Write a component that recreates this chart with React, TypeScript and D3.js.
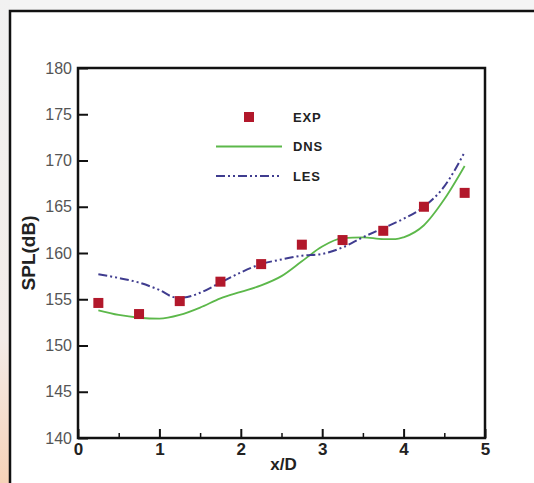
import React, { useEffect, useRef } from 'react';
import * as d3 from 'd3';

// x/D positions of the measurements and their SPL values
const expX = [0.25, 0.75, 1.25, 1.75, 2.25, 2.75, 3.25, 3.75, 4.25, 4.75];
const expY = [154.6, 153.4, 154.8, 156.9, 158.8, 160.9, 161.4, 162.4, 165.0, 166.5];

// DNS curve
const dnsX = [0.25, 0.5, 0.75, 1.0, 1.25, 1.5, 1.75, 2.0, 2.25, 2.5, 2.75, 3.0, 3.25, 3.5, 3.75, 3.9, 4.0, 4.25, 4.5, 4.75];
const dnsY = [153.8, 153.3, 153.0, 152.9, 153.3, 154.1, 155.1, 155.8, 156.5, 157.5, 159.1, 160.7, 161.6, 161.7, 161.5, 161.5, 161.7, 163.0, 165.8, 169.4];

// LES curve
const lesX = [0.25, 0.5, 0.75, 1.0, 1.2, 1.3, 1.5, 1.75, 2.0, 2.25, 2.5, 2.75, 3.0, 3.25, 3.5, 3.75, 4.0, 4.25, 4.5, 4.75];
const lesY = [157.7, 157.3, 156.8, 156.0, 155.2, 155.2, 155.7, 156.8, 157.9, 158.8, 159.3, 159.7, 159.9, 160.6, 161.7, 162.7, 163.7, 165.0, 167.2, 170.9];

const xTicks = [0, 1, 2, 3, 4, 5];
const xMinorTicks = [0.5, 1.5, 2.5, 3.5, 4.5];
const yTicks = [140, 145, 150, 155, 160, 165, 170, 175, 180];

const legendItems = ['EXP', 'DNS', 'LES'];

const W = 534;
const H = 483;

const App = () => {
  const ref = useRef<SVGSVGElement>(null);

  useEffect(() => {
    const svg = d3.select(ref.current);
    svg.selectAll('*').remove();

    const margin = { top: 68, right: 49, bottom: 45, left: 78 };
    const width = W - margin.left - margin.right;
    const height = H - margin.top - margin.bottom;

    // background: grey page with orange glow at the left
    const defs = svg.append('defs');
    const grad = defs.append('linearGradient')
      .attr('id', 'edge')
      .attr('x1', 0).attr('y1', 0).attr('x2', 0).attr('y2', 1);
    grad.append('stop').attr('offset', '0%').attr('stop-color', '#f1f1f1');
    grad.append('stop').attr('offset', '70%').attr('stop-color', '#f3ece8');
    grad.append('stop').attr('offset', '100%').attr('stop-color', '#f6d2b8');

    svg.append('rect').attr('width', W).attr('height', H).attr('fill', '#f4f4f4');
    svg.append('rect').attr('width', 10).attr('height', H).attr('fill', 'url(#edge)');
    svg.append('rect')
      .attr('x', 10).attr('y', 11)
      .attr('width', W).attr('height', H)
      .attr('fill', '#fff');
    svg.append('path')
      .attr('d', `M10,${H}V11H${W}`)
      .attr('fill', 'none')
      .attr('stroke', '#111')
      .attr('stroke-width', 2.5);

    const g = svg.append('g')
      .attr('transform', `translate(${margin.left},${margin.top})`);

    const x = d3.scaleLinear().domain([0, 5]).range([0, width]);
    const y = d3.scaleLinear().domain([140, 180]).range([height, 0]);

    // axes
    const yAxis = g.append('g')
      .call(d3.axisLeft(y).tickValues(yTicks).tickSize(-10).tickPadding(6).tickFormat(d3.format('d')));
    yAxis.select('.domain').remove();
    yAxis.selectAll('line').attr('stroke', '#111').attr('stroke-width', 2);
    yAxis.selectAll('text')
      .attr('fill', '#555')
      .style('font-family', 'Liberation Sans, Arial, sans-serif')
      .style('font-size', '16px');

    const xAxis = g.append('g')
      .attr('transform', `translate(0,${height})`)
      .call(d3.axisBottom(x).tickValues(xTicks).tickSize(-9).tickPadding(5).tickFormat(d3.format('d')));
    xAxis.select('.domain').remove();
    xAxis.selectAll('line').attr('stroke', '#111').attr('stroke-width', 2);
    xAxis.selectAll('text')
      .attr('fill', '#222')
      .style('font-family', 'Liberation Sans, Arial, sans-serif')
      .style('font-weight', 'bold')
      .style('font-size', '17px');

    const xMinor = g.append('g')
      .attr('transform', `translate(0,${height})`)
      .call(d3.axisBottom(x).tickValues(xMinorTicks).tickSize(-5).tickFormat(() => ''));
    xMinor.select('.domain').remove();
    xMinor.selectAll('line').attr('stroke', '#111').attr('stroke-width', 1.5);

    g.append('rect')
      .attr('width', width).attr('height', height)
      .attr('fill', 'none')
      .attr('stroke', '#111')
      .attr('stroke-width', 2.5);

    // axis titles
    g.append('text')
      .attr('x', width / 2 + 2)
      .attr('y', height + 32)
      .attr('text-anchor', 'middle')
      .attr('fill', '#222')
      .style('font-family', 'Liberation Sans, Arial, sans-serif')
      .style('font-weight', 'bold')
      .style('font-size', '17px')
      .text('x/D');

    svg.append('text')
      .attr('transform', 'translate(35,253) rotate(-90)')
      .attr('text-anchor', 'middle')
      .attr('fill', '#222')
      .style('font-family', 'Liberation Sans, Arial, sans-serif')
      .style('font-weight', 'bold')
      .style('font-size', '19px')
      .text('SPL(dB)');

    // curves
    const line = d3.line<[number, number]>()
      .x(d => x(d[0]))
      .y(d => y(d[1]))
      .curve(d3.curveMonotoneX);

    const dns = dnsX.map((v, i) => [v, dnsY[i]] as [number, number]);
    const les = lesX.map((v, i) => [v, lesY[i]] as [number, number]);

    g.append('path')
      .attr('d', line(dns))
      .attr('fill', 'none')
      .attr('stroke', '#5cb84a')
      .attr('stroke-width', 1.8);

    g.append('path')
      .attr('d', line(les))
      .attr('fill', 'none')
      .attr('stroke', '#3f3c8f')
      .attr('stroke-width', 2)
      .attr('stroke-dasharray', '9,3,2,3,2,3');

    // measured points
    const s = 10;
    g.append('g')
      .selectAll('rect')
      .data(expX.map((v, i) => [v, expY[i]]))
      .enter()
      .append('rect')
      .attr('x', d => x(d[0]) - s / 2)
      .attr('y', d => y(d[1]) - s / 2)
      .attr('width', s)
      .attr('height', s)
      .attr('fill', '#b2182b');

    // legend
    const lg = svg.append('g').attr('transform', 'translate(216,117)');
    const rowH = 29.5;
    lg.append('rect')
      .attr('x', 33 - s / 2).attr('y', -s / 2)
      .attr('width', s).attr('height', s)
      .attr('fill', '#b2182b');
    lg.append('line')
      .attr('x1', 0).attr('x2', 66)
      .attr('y1', rowH).attr('y2', rowH)
      .attr('stroke', '#5cb84a').attr('stroke-width', 1.8);
    lg.append('line')
      .attr('x1', 0).attr('x2', 66)
      .attr('y1', rowH * 2).attr('y2', rowH * 2)
      .attr('stroke', '#3f3c8f').attr('stroke-width', 2)
      .attr('stroke-dasharray', '9,3,2,3,2,3');
    lg.selectAll('text.lab')
      .data(legendItems)
      .enter()
      .append('text')
      .attr('class', 'lab')
      .attr('x', 77)
      .attr('y', (d, i) => i * rowH)
      .attr('dy', '0.36em')
      .attr('fill', '#222')
      .style('font-family', 'Liberation Sans, Arial, sans-serif')
      .style('font-weight', 'bold')
      .style('font-size', '13px')
      .style('letter-spacing', '0.8px')
      .text(d => d);
  }, []);

  return (
    <svg
      ref={ref}
      width={W}
      height={H}
      style={{ position: 'absolute', left: 0, top: 0, display: 'block' }}
    />
  );
};

export default App;
